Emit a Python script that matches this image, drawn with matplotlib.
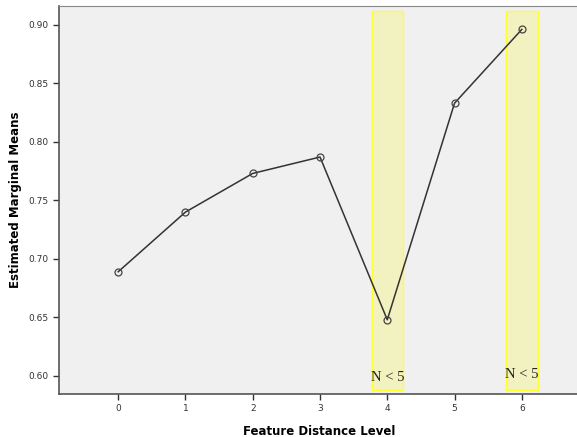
import matplotlib.pyplot as plt
from matplotlib.patches import Rectangle

levels = [0, 1, 2, 3, 4, 5, 6]
means = [0.689, 0.740, 0.773, 0.787, 0.648, 0.833, 0.896]
small_n_levels = [4, 6]
yticks = [0.60, 0.65, 0.70, 0.75, 0.80, 0.85, 0.90]

fig = plt.figure(figsize=(5.77, 4.37), dpi=100)
ax = fig.add_axes([59 / 577, 1 - 394 / 437, 520 / 577, 388 / 437])
ax.set_facecolor("#f0f0f0")

# highlight levels with few observations
for lv, ty in zip(small_n_levels, [0.5935, 0.5955]):
    ax.add_patch(Rectangle((lv - 0.23, 0.588), 0.47, 0.324,
                           facecolor=(1, 1, 0, 0.2), edgecolor="#ffff33",
                           linewidth=1.0, zorder=1))
    ax.text(lv, ty, "N < 5", family="Liberation Serif", fontsize=10.5,
            ha="center", va="bottom", color="#222222", zorder=2)

ax.plot(levels, means, color="#333333", linewidth=1.1, marker="o",
        markersize=5, markerfacecolor="none", markeredgecolor="#444444",
        markeredgewidth=0.9, zorder=3)

ax.set_xlim(-0.88, 6.85)
ax.set_ylim(0.5846, 0.916)
ax.set_xticks(levels)
ax.set_yticks(yticks)
ax.set_yticklabels([f"{v:.2f}" for v in yticks])
ax.tick_params(labelsize=6.5, colors="#333333", length=4, width=1)

for side in ["left", "bottom"]:
    ax.spines[side].set_color("#555555")
    ax.spines[side].set_linewidth(1.2)
ax.spines["top"].set_color("#888888")
ax.spines["right"].set_visible(False)

ax.set_xlabel("Feature Distance Level", fontsize=8.5, fontweight="bold", labelpad=8)
ax.set_ylabel("Estimated Marginal Means", fontsize=8.5, fontweight="bold", labelpad=5)

fig.savefig("out.png", dpi=100)
